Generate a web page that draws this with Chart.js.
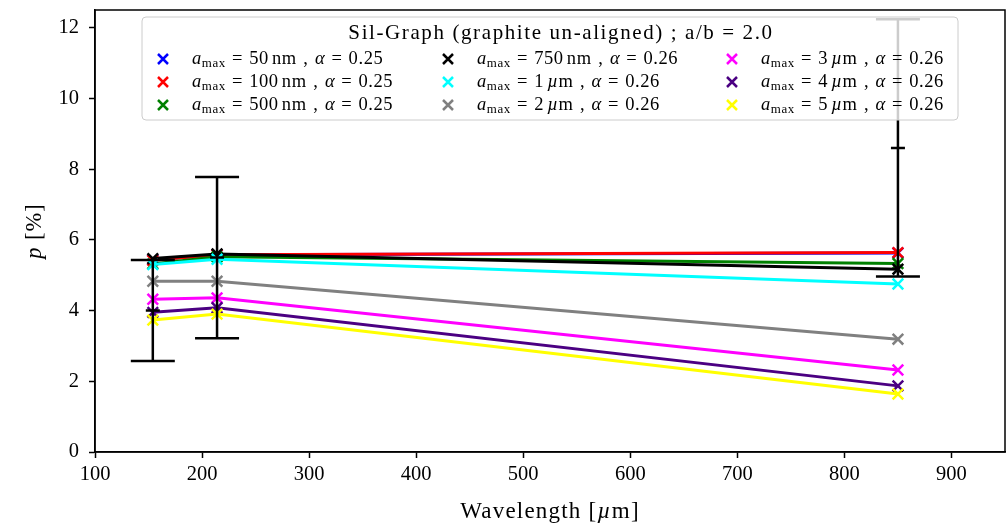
<!DOCTYPE html>
<html>
<head>
<meta charset="utf-8">
<script src="https://cdn.jsdelivr.net/npm/chart.js@4.4.0/dist/chart.umd.min.js"></script>
<style>
  html, body { margin: 0; padding: 0; background: #fff; }
  #wrap { width: 1008px; height: 529px; }
</style>
</head>
<body>
<div id="wrap"><canvas id="polChart" width="1008" height="529"></canvas></div>
<script>
// wavelengths of the three bands (micron)
const wavelengths = [154, 214, 850];

// model polarisation (%) per grain size
const p50nm  = [5.44, 5.58, 5.63];
const p100nm = [5.42, 5.58, 5.64];
const p500nm = [5.32, 5.52, 5.33];
const p750nm = [5.47, 5.60, 5.17];
const p1um   = [5.30, 5.45, 4.75];
const p2um   = [4.83, 4.83, 3.19];
const p3um   = [4.32, 4.36, 2.32];
const p4um   = [3.95, 4.08, 1.87];
const p5um   = [3.73, 3.90, 1.64];

// observed values with errors
const obsP   = [4.00, 5.50, 8.60];
const obsErr = [1.43, 2.28, 3.64];

const grainSizes = ['50', '100', '500', '750', '1', '2', '3', '4', '5'];
const grainUnits = ['nm', 'nm', 'nm', 'nm', 'µm', 'µm', 'µm', 'µm', 'µm'];
const alphas = ['0.25', '0.25', '0.25', '0.26', '0.26', '0.26', '0.26', '0.26', '0.26'];
const lineColors = ['#0000ff', '#ff0000', '#008000', '#000000', '#00ffff', '#808080', '#ff00ff', '#4b0082', '#ffff00'];
const legendTitle = 'Sil-Graph (graphite un-aligned) ; a/b = 2.0';

const xTicks = [100, 200, 300, 400, 500, 600, 700, 800, 900];
const yTicks = [0, 2, 4, 6, 8, 10, 12];

const serif = '"Liberation Serif", "DejaVu Serif", serif';
const allSeries = [p50nm, p100nm, p500nm, p750nm, p1um, p2um, p3um, p4um, p5um];

const datasets = allSeries.map((vals, i) => ({
  label: grainSizes[i] + ' ' + grainUnits[i],
  data: vals.map((v, j) => ({ x: wavelengths[j], y: v })),
  borderColor: lineColors[i],
  backgroundColor: lineColors[i],
  borderWidth: 3,
  pointStyle: 'crossRot',
  pointRadius: 7.5,
  pointBorderWidth: 2.5,
  tension: 0,
  order: allSeries.length - i,   // later series on top, like matplotlib
}));

// text pieces: {t, italic, sub} or {gap: em}
const drawPieces = (ctx, pieces, x, y, size, draw = true) => {
  pieces.forEach((p) => {
    if (p.gap) { x += p.gap * size; return; }
    const fs = p.sub ? size * 0.7 : size;
    ctx.font = (p.italic ? 'italic ' : '') + fs + 'px ' + serif;
    if (draw) ctx.fillText(p.t, x, y + (p.sub ? size * 0.25 : 0));
    x += ctx.measureText(p.t).width;
  });
  return x;
};

const errorBars = {
  id: 'errorBars',
  afterDatasetsDraw(chart) {
    const { ctx, scales: { x, y } } = chart;
    ctx.save();
    ctx.strokeStyle = '#000';
    ctx.lineWidth = 2.5;
    wavelengths.forEach((w, i) => {
      const px = x.getPixelForValue(w);
      const lo = y.getPixelForValue(obsP[i] - obsErr[i]);
      const hi = y.getPixelForValue(obsP[i] + obsErr[i]);
      const mid = y.getPixelForValue(obsP[i]);
      ctx.beginPath();
      ctx.moveTo(px, lo); ctx.lineTo(px, hi);
      ctx.moveTo(px - 22, lo); ctx.lineTo(px + 22, lo);
      ctx.moveTo(px - 22, hi); ctx.lineTo(px + 22, hi);
      ctx.moveTo(px - 7, mid); ctx.lineTo(px + 7, mid);
      ctx.stroke();
    });
    ctx.restore();
  }
};

const frameAndLegend = {
  id: 'frameAndLegend',
  afterDraw(chart) {
    const { ctx, chartArea: a } = chart;
    ctx.save();
    // frame
    ctx.strokeStyle = '#000';
    ctx.lineWidth = 1.5;
    ctx.strokeRect(a.left, a.top, a.right - a.left, a.bottom - a.top);

    // legend box
    const bx = 142, by = 17, bw = 816, bh = 103;
    ctx.beginPath();
    ctx.roundRect(bx, by, bw, bh, 4);
    ctx.fillStyle = 'rgba(255,255,255,0.8)';
    ctx.fill();
    ctx.strokeStyle = '#cccccc';
    ctx.lineWidth = 1;
    ctx.stroke();

    ctx.fillStyle = '#000';
    ctx.textBaseline = 'middle';
    ctx.textAlign = 'center';
    ctx.font = '21px ' + serif;
    ctx.letterSpacing = '1.6px';
    ctx.fillText(legendTitle, 561, 33);
    ctx.letterSpacing = '0.6px';

    ctx.textAlign = 'left';
    const colX = [163, 448, 732];
    const rowY = [59, 82, 105];
    lineColors.forEach((c, i) => {
      const cx = colX[Math.floor(i / 3)];
      const cy = rowY[i % 3];
      ctx.strokeStyle = c;
      ctx.lineWidth = 2.5;
      ctx.beginPath();
      ctx.moveTo(cx - 5, cy - 5); ctx.lineTo(cx + 5, cy + 5);
      ctx.moveTo(cx - 5, cy + 5); ctx.lineTo(cx + 5, cy - 5);
      ctx.stroke();
      ctx.fillStyle = '#000';
      const unit = grainUnits[i] === 'nm'
        ? [{ gap: 0.17 }, { t: 'nm' }]
        : [{ gap: 0.17 }, { t: 'µ', italic: true }, { t: 'm' }];
      drawPieces(ctx, [
        { t: 'a', italic: true }, { t: 'max', sub: true },
        { gap: 0.33 }, { t: '=' }, { gap: 0.33 }, { t: grainSizes[i] }, ...unit,
        { gap: 0.35 }, { t: ',' }, { gap: 0.35 },
        { t: 'α', italic: true }, { gap: 0.33 }, { t: '=' }, { gap: 0.33 }, { t: alphas[i] }
      ], cx + 29, cy, 18.5);
    });

    // axis titles
    ctx.fillStyle = '#000';
    ctx.textBaseline = 'middle';
    ctx.letterSpacing = '1.2px';
    const xt = [{ t: 'Wavelength ' }, { t: '[' }, { t: 'µ', italic: true }, { t: 'm]' }];
    let w = drawPieces(ctx, xt, 0, 0, 23, false);
    drawPieces(ctx, xt, (a.left + a.right) / 2 - w / 2, 512, 23);

    ctx.letterSpacing = '1px';
    ctx.translate(35, (a.top + a.bottom) / 2);
    ctx.rotate(-Math.PI / 2);
    const yt = [{ t: 'p', italic: true }, { t: ' [%]' }];
    w = drawPieces(ctx, yt, 0, 0, 22.5, false);
    drawPieces(ctx, yt, -w / 2, 0, 22.5);
    ctx.restore();
  }
};

new Chart('polChart', {
  type: 'line',
  data: { datasets },
  plugins: [errorBars, frameAndLegend],
  options: {
    responsive: false,
    animation: false,
    devicePixelRatio: 1,
    layout: { autoPadding: false, padding: { top: 10, right: 3, left: 0, bottom: 0 } },
    plugins: { legend: { display: false }, tooltip: { enabled: false } },
    scales: {
      x: {
        type: 'linear',
        min: 100,
        max: 950,
        afterBuildTicks: (s) => { s.ticks = xTicks.map((v) => ({ value: v })); },
        afterFit: (s) => { s.height = 77; s.paddingLeft = 0; s.paddingRight = 0; },
        grid: { drawOnChartArea: false, drawTicks: true, tickLength: 6, tickWidth: 1.5, color: '#000' },
        border: { display: true, color: '#000', width: 1.5 },
        ticks: { color: '#000', padding: 4, maxRotation: 0, font: { family: serif, size: 20.5 } },
      },
      y: {
        type: 'linear',
        min: 0,
        max: 12.5,
        afterBuildTicks: (s) => { s.ticks = yTicks.map((v) => ({ value: v })); },
        afterFit: (s) => { s.width = 95; s.paddingTop = 0; s.paddingBottom = 0; },
        grid: { drawOnChartArea: false, drawTicks: true, tickLength: 6, tickWidth: 1.5, color: '#000' },
        border: { display: true, color: '#000', width: 1.5 },
        ticks: { color: '#000', padding: 10, font: { family: serif, size: 20.5 } },
      }
    }
  }
});
</script>
</body>
</html>
